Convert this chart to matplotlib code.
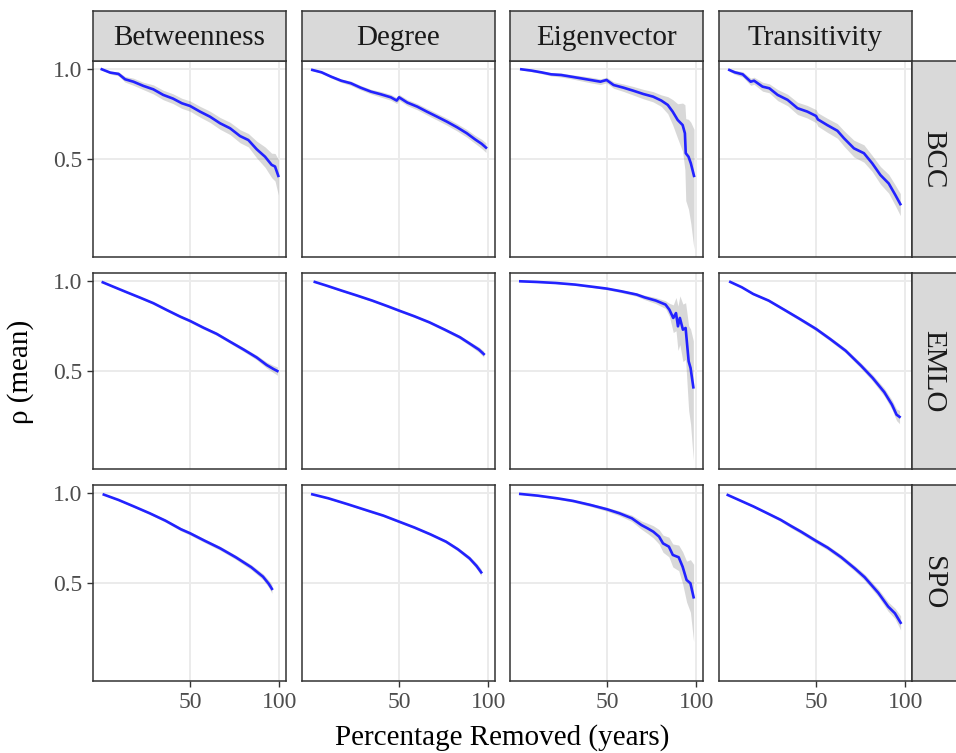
import matplotlib.pyplot as plt
from matplotlib.ticker import FixedLocator, NullLocator, FixedFormatter

plt.rcParams['font.family'] = ['Liberation Serif', 'DejaVu Serif']

datasets = ['BCC', 'EMLO', 'SPO']
measures = ['Betweenness', 'Degree', 'Eigenvector', 'Transitivity']

# mean rho and its sd (x = percentage removed)
bcc_betw_x = [25.2, 26.9, 28.7, 30.2, 32.2, 34.8, 37.6, 40.6, 43.8, 46.9, 50.0, 54.0, 58.4, 63.1, 68.2, 73.7, 78.6, 83.9, 89.5, 94.2, 96.7, 99.2]
bcc_betw_y = [1.0, 0.975, 0.965, 0.926, 0.909, 0.880, 0.857, 0.821, 0.798, 0.770, 0.754, 0.722, 0.694, 0.660, 0.635, 0.598, 0.580, 0.540, 0.510, 0.479, 0.473, 0.440]
bcc_betw_sd = [0.005, 0.01, 0.015, 0.02, 0.025, 0.025, 0.03, 0.03, 0.03, 0.03, 0.03, 0.03, 0.03, 0.03, 0.03, 0.03, 0.03, 0.035, 0.04, 0.045, 0.05, 0.06]

bcc_deg_x = [25.5, 27.4, 29.5, 31.9, 34.4, 37.1, 40.2, 43.4, 46.9, 49.1, 50.0, 53.3, 57.6, 62.0, 67.2, 72.5, 78.4, 84.6, 90.2, 95.0, 98.2]
bcc_deg_y = [0.995, 0.977, 0.945, 0.916, 0.898, 0.868, 0.842, 0.825, 0.806, 0.786, 0.806, 0.774, 0.750, 0.722, 0.694, 0.668, 0.640, 0.611, 0.583, 0.563, 0.547]
bcc_deg_sd = [0.005, 0.008, 0.01, 0.012, 0.015, 0.015, 0.015, 0.018, 0.018, 0.018, 0.018, 0.018, 0.018, 0.018, 0.018, 0.018, 0.018, 0.018, 0.018, 0.02, 0.02]

bcc_eig_x = [25.7, 27.8, 30.0, 32.4, 35.0, 37.8, 40.8, 44.0, 47.5, 49.8, 52.6, 56.8, 61.3, 66.2, 71.5, 76.2, 80.1, 83.2, 86.5, 89.9, 91.5, 92.1, 94.1, 95.8, 98.2]
bcc_eig_y = [1.0, 0.990, 0.977, 0.962, 0.957, 0.945, 0.933, 0.921, 0.909, 0.921, 0.886, 0.868, 0.848, 0.827, 0.810, 0.786, 0.760, 0.722, 0.677, 0.651, 0.611, 0.524, 0.510, 0.485, 0.440]
bcc_eig_sd = [0.005, 0.008, 0.01, 0.012, 0.015, 0.015, 0.018, 0.02, 0.02, 0.02, 0.022, 0.025, 0.028, 0.03, 0.032, 0.035, 0.05, 0.07, 0.09, 0.12, 0.15, 0.16, 0.17, 0.18, 0.19]

bcc_tra_x = [25.5, 26.6, 28.3, 30.1, 30.9, 33.0, 34.8, 37.1, 40.1, 43.3, 46.7, 50.0, 50.7, 54.5, 59.0, 62.1, 67.1, 72.5, 77.3, 82.4, 87.9, 92.5, 96.2]
bcc_tra_y = [0.995, 0.977, 0.962, 0.909, 0.916, 0.875, 0.864, 0.821, 0.790, 0.741, 0.722, 0.698, 0.680, 0.651, 0.623, 0.588, 0.544, 0.524, 0.485, 0.443, 0.415, 0.380, 0.354]
bcc_tra_sd = [0.01, 0.015, 0.02, 0.025, 0.025, 0.03, 0.03, 0.035, 0.035, 0.035, 0.035, 0.035, 0.035, 0.035, 0.035, 0.035, 0.035, 0.035, 0.03, 0.03, 0.03, 0.03, 0.03]

emlo_betw_x = [25.4, 27.5, 30.6, 33.9, 37.6, 41.7, 46.3, 50.0, 55.4, 61.5, 68.2, 75.6, 83.9, 90.6, 95.5, 98.5]
emlo_betw_y = [0.992, 0.960, 0.919, 0.882, 0.845, 0.802, 0.762, 0.737, 0.700, 0.667, 0.628, 0.592, 0.556, 0.525, 0.509, 0.501]
emlo_betw_sd = [0.003, 0.005, 0.006, 0.007, 0.008, 0.008, 0.008, 0.008, 0.008, 0.008, 0.008, 0.009, 0.01, 0.012, 0.014, 0.016]

emlo_deg_x = [26.0, 28.5, 32.1, 36.1, 40.6, 45.8, 50.0, 56.3, 63.3, 71.3, 80.2, 87.6, 92.9, 96.5]
emlo_deg_y = [0.995, 0.967, 0.930, 0.896, 0.862, 0.825, 0.798, 0.764, 0.729, 0.689, 0.650, 0.614, 0.591, 0.571]
emlo_deg_sd = [0.003, 0.005, 0.006, 0.007, 0.007, 0.007, 0.007, 0.007, 0.007, 0.008, 0.009, 0.01, 0.012, 0.014]

emlo_eig_x = [25.5, 28.9, 33.6, 39.0, 45.3, 50.0, 55.8, 62.9, 66.8, 73.0, 78.7, 81.1, 83.6, 85.4, 86.7, 88.0, 90.1, 92.0, 94.2, 95.6, 97.7]
emlo_eig_y = [1.0, 0.995, 0.987, 0.975, 0.957, 0.945, 0.926, 0.903, 0.884, 0.862, 0.836, 0.804, 0.754, 0.783, 0.707, 0.754, 0.689, 0.698, 0.540, 0.513, 0.442]
emlo_eig_sd = [0.002, 0.003, 0.004, 0.005, 0.006, 0.008, 0.01, 0.012, 0.015, 0.02, 0.025, 0.04, 0.08, 0.1, 0.12, 0.14, 0.15, 0.15, 0.17, 0.18, 0.19]

emlo_tra_x = [25.7, 28.1, 30.7, 34.6, 39.0, 43.9, 50.0, 55.8, 62.9, 70.9, 77.6, 84.9, 90.1, 93.4, 95.6]
emlo_tra_y = [0.995, 0.955, 0.907, 0.862, 0.804, 0.750, 0.693, 0.641, 0.586, 0.522, 0.475, 0.426, 0.387, 0.358, 0.352]
emlo_tra_sd = [0.003, 0.005, 0.007, 0.008, 0.009, 0.01, 0.01, 0.01, 0.01, 0.011, 0.012, 0.013, 0.014, 0.016, 0.018]

spo_betw_x = [25.6, 28.7, 32.4, 36.6, 41.3, 46.6, 50.0, 56.0, 63.1, 71.3, 80.4, 88.1, 92.1, 94.4]
spo_betw_y = [0.990, 0.950, 0.903, 0.857, 0.810, 0.758, 0.735, 0.694, 0.655, 0.611, 0.566, 0.526, 0.498, 0.479]
spo_betw_sd = [0.003, 0.005, 0.007, 0.008, 0.009, 0.01, 0.01, 0.01, 0.01, 0.01, 0.011, 0.012, 0.014, 0.016]

spo_deg_x = [25.5, 28.9, 33.6, 39.2, 44.3, 50.0, 56.4, 63.8, 72.0, 78.9, 86.4, 91.3, 94.6]
spo_deg_y = [0.992, 0.962, 0.919, 0.875, 0.842, 0.804, 0.768, 0.729, 0.689, 0.650, 0.606, 0.571, 0.544]
spo_deg_sd = [0.003, 0.005, 0.006, 0.007, 0.007, 0.007, 0.007, 0.007, 0.008, 0.009, 0.01, 0.012, 0.014]

spo_eig_x = [25.5, 29.2, 34.0, 38.4, 44.0, 50.0, 55.1, 60.6, 65.3, 68.4, 71.6, 74.9, 77.2, 80.8, 83.3, 87.2, 89.9, 92.7, 95.5, 97.9]
spo_eig_y = [0.995, 0.982, 0.962, 0.943, 0.914, 0.884, 0.857, 0.825, 0.783, 0.764, 0.744, 0.716, 0.680, 0.663, 0.622, 0.611, 0.568, 0.513, 0.500, 0.449]
spo_eig_sd = [0.003, 0.005, 0.007, 0.009, 0.011, 0.013, 0.016, 0.02, 0.025, 0.03, 0.035, 0.04, 0.045, 0.05, 0.055, 0.06, 0.07, 0.08, 0.1, 0.13]

spo_tra_x = [25.2, 27.8, 30.8, 34.3, 38.0, 41.2, 44.5, 50.0, 54.7, 60.8, 67.5, 72.9, 81.0, 87.5, 92.2, 96.4]
spo_tra_y = [0.987, 0.945, 0.903, 0.857, 0.815, 0.777, 0.744, 0.693, 0.658, 0.611, 0.561, 0.524, 0.465, 0.418, 0.397, 0.369]
spo_tra_sd = [0.003, 0.005, 0.007, 0.008, 0.01, 0.012, 0.012, 0.012, 0.012, 0.012, 0.012, 0.013, 0.014, 0.015, 0.016, 0.02]

curves = [
    [(bcc_betw_x, bcc_betw_y, bcc_betw_sd), (bcc_deg_x, bcc_deg_y, bcc_deg_sd),
     (bcc_eig_x, bcc_eig_y, bcc_eig_sd), (bcc_tra_x, bcc_tra_y, bcc_tra_sd)],
    [(emlo_betw_x, emlo_betw_y, emlo_betw_sd), (emlo_deg_x, emlo_deg_y, emlo_deg_sd),
     (emlo_eig_x, emlo_eig_y, emlo_eig_sd), (emlo_tra_x, emlo_tra_y, emlo_tra_sd)],
    [(spo_betw_x, spo_betw_y, spo_betw_sd), (spo_deg_x, spo_deg_y, spo_deg_sd),
     (spo_eig_x, spo_eig_y, spo_eig_sd), (spo_tra_x, spo_tra_y, spo_tra_sd)],
]

x_ticks = [50, 100]
y_ticks = [0.5, 1.0]
x_tick_labels = ['50', '100']
y_tick_labels = ['0.5', '1.0']

# layout in pixels
W, H = 956, 753
col_left = [93, 302, 510, 719]
row_top = [61, 273, 485]
pw, ph = 193, 196
dark = '#333333'

fig = plt.figure(figsize=(W / 100, H / 100), dpi=100)

for r, ds in enumerate(datasets):
    for c, ms in enumerate(measures):
        l, t = col_left[c], row_top[r]
        ax = fig.add_axes([l / W, 1 - (t + ph) / H, pw / W, ph / H])
        ax.set_xscale('log')
        ax.set_yscale('log')
        ax.set_xlim(23.54, 105.3)
        ax.set_ylim(0.2356, 1.066)
        ax.xaxis.set_major_locator(FixedLocator(x_ticks))
        ax.yaxis.set_major_locator(FixedLocator(y_ticks))
        ax.xaxis.set_minor_locator(NullLocator())
        ax.yaxis.set_minor_locator(NullLocator())
        ax.xaxis.set_major_formatter(FixedFormatter(x_tick_labels))
        ax.yaxis.set_major_formatter(FixedFormatter(y_tick_labels))
        ax.grid(True, color='#EBEBEB', linewidth=1.4)
        ax.set_axisbelow(True)
        for s in ax.spines.values():
            s.set_color(dark)
            s.set_linewidth(1.1)
        ax.tick_params(length=4.5, width=1.0, color=dark, labelcolor='#4D4D4D',
                       labelsize=17, pad=3.5,
                       left=(c == 0), labelleft=(c == 0),
                       bottom=(r == 2), labelbottom=(r == 2))

        x, y, sd = curves[r][c]
        lo = [a - b for a, b in zip(y, sd)]
        hi = [a + b for a, b in zip(y, sd)]
        ax.fill_between(x, lo, hi, color='grey', alpha=0.3, linewidth=0)
        ax.plot(x, y, color='#2222FF', linewidth=1.9, solid_joinstyle='round')

        if r == 0:
            sax = fig.add_axes([l / W, 1 - 61 / H, pw / W, 50 / H])
            sax.set_facecolor('#D9D9D9')
            sax.set_xticks([])
            sax.set_yticks([])
            for s in sax.spines.values():
                s.set_color(dark)
                s.set_linewidth(1.1)
            sax.text(0.5, 0.32, ms, transform=sax.transAxes, ha='center',
                     va='baseline', fontsize=21, color='#1A1A1A')

    rax = fig.add_axes([912 / W, 1 - (row_top[r] + ph) / H, 50 / W, ph / H])
    rax.set_facecolor('#D9D9D9')
    rax.set_xticks([])
    rax.set_yticks([])
    for s in rax.spines.values():
        s.set_color(dark)
        s.set_linewidth(1.1)
    fig.text(933 / W, 1 - (row_top[r] + ph / 2) / H, ds, rotation=-90,
             ha='center', va='center', fontsize=21, color='#1A1A1A')

fig.text(502 / W, 1 - 745 / H, 'Percentage Removed (years)', ha='center',
         va='baseline', fontsize=21)
fig.text(21 / W, 1 - 372 / H, 'ρ (mean)', rotation=90, ha='center',
         va='center', fontsize=21)

fig.savefig('out.png', dpi=100)
